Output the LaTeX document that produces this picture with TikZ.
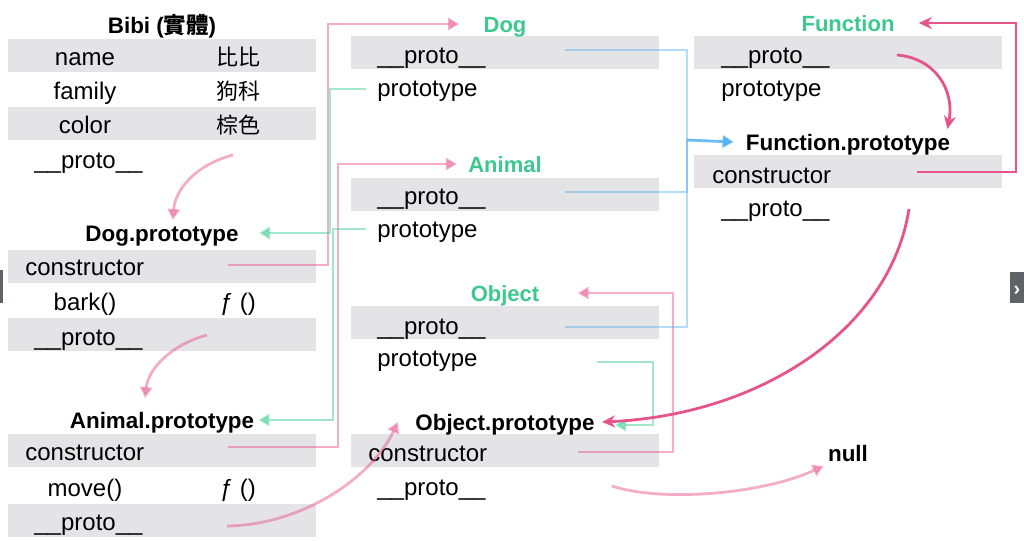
\documentclass[tikz,border=0pt]{standalone}
\usepackage{fontspec}
\setmainfont{Liberation Sans}
\newfontfamily\cjk{Noto Sans CJK TC}
\usetikzlibrary{arrows.meta}
\definecolor{rowgray}{HTML}{E4E4E7}
\definecolor{titlegreen}{HTML}{3CC88E}
\definecolor{pinkbase}{HTML}{E6548A}
\definecolor{greenbase}{HTML}{3DCC91}
\definecolor{bluebase}{HTML}{4AABF0}
\definecolor{tabgray}{HTML}{5F6368}

\begin{document}
\begin{tikzpicture}
  [x=0.5pt,y=-0.5pt,
   every node/.style={font=\fontsize{12}{14}\selectfont,text height=8.6pt,text depth=0pt,inner sep=2pt},
   row/.style={fill=rowgray,minimum width=154pt,minimum height=16.5pt,inner sep=0pt},
   lf/.style={anchor=west,inner xsep=0pt},
   cj/.style={font=\fontsize{11}{13}\selectfont\cjk},
   ttl/.style={font=\fontsize{11.2}{13}\selectfont\bfseries},
   grn/.style={font=\fontsize{11}{13}\selectfont\bfseries,text=titlegreen},
   pk/.style={draw=pinkbase,opacity=0.48,line width=1.4pt,-{Triangle[length=5.5pt,width=6pt]}},
   dk/.style={draw=pinkbase,line width=1.4pt,-{Stealth[length=6.5pt,width=6pt]}},
   gr/.style={draw=greenbase,opacity=0.48,line width=1.4pt,-{Triangle[length=5.5pt,width=6pt]}},
   bl/.style={draw=bluebase,opacity=0.42,line width=1.4pt}]
  \useasboundingbox (0,0) rectangle (1024,541);

  % gray rows
  \node[row] (r1) at (162,55) {};
  \node[row] (r3) at (162,123) {};
  \node[row] (r5) at (162,266) {};
  \node[row] (r7) at (162,334) {};
  \node[row] (r8) at (162,450) {};
  \node[row] (r10) at (162,520) {};
  \node[row] (r11) at (505,52) {};
  \node[row] (r13) at (505,194) {};
  \node[row] (r15) at (505,322) {};
  \node[row] (r17) at (505,450) {};
  \node[row] (r19) at (848,52) {};
  \node[row] (r21) at (848,171) {};

  % Bibi
  \node[ttl] (bibi) at (162,25) {Bibi ({\cjk 實體})};
  \node (k1) at (85,57) {name};
  \node[cj] (v1) at (238,57) {比比};
  \node (k2) at (85,91) {family};
  \node[cj] (v2) at (238,91) {狗科};
  \node (k3) at (85,125) {color};
  \node[cj] (v3) at (238,125) {棕色};
  \node[lf] (k4) at (34,160) {\_\_proto\_\_};

  % Dog.prototype
  \node[ttl] (dp) at (162,233) {Dog.prototype};
  \node[lf] (k5) at (25,267) {constructor};
  \node (k6) at (85,302) {bark()};
  \node (v6) at (238,302) {ƒ ()};
  \node[lf] (k7) at (34,337) {\_\_proto\_\_};

  % Animal.prototype
  \node[ttl] (ap) at (162,420) {Animal.prototype};
  \node[lf] (k8) at (25,452) {constructor};
  \node (k9) at (85,488) {move()};
  \node (v9) at (238,488) {ƒ ()};
  \node[lf] (k10) at (34,522) {\_\_proto\_\_};

  % Dog, Animal, Object
  \node[grn] (dog) at (505,24) {Dog};
  \node[lf] (k11) at (377,55) {\_\_proto\_\_};
  \node[lf] (k12) at (377,88) {prototype};
  \node[grn] (ani) at (505,164) {Animal};
  \node[lf] (k13) at (377,196) {\_\_proto\_\_};
  \node[lf] (k14) at (377,229) {prototype};
  \node[grn] (obj) at (505,293) {Object};
  \node[lf] (k15) at (377,326) {\_\_proto\_\_};
  \node[lf] (k16) at (377,358) {prototype};

  % Object.prototype
  \node[ttl] (op) at (505,422) {Object.prototype};
  \node[lf] (k17) at (368,453) {constructor};
  \node[lf] (k18) at (377,487) {\_\_proto\_\_};

  % Function, Function.prototype, null
  \node[grn] (fn) at (848,23) {Function};
  \node[lf] (k19) at (721,55) {\_\_proto\_\_};
  \node[lf] (k20) at (721,88) {prototype};
  \node[ttl] (fp) at (848,142) {Function.prototype};
  \node[lf] (k21) at (712,175) {constructor};
  \node[lf] (k22) at (721,208) {\_\_proto\_\_};
  \node[ttl] (nl) at (848,453) {null};

  % start points
  \coordinate (s1) at (233,155);
  \coordinate (s2) at (207,335);
  \coordinate (s3) at (227,526);
  \coordinate (s4) at (228,265);
  \coordinate (s5) at (366,89);
  \coordinate (s6) at (228,447);
  \coordinate (s7) at (366,229);
  \coordinate (s8) at (565,50);
  \coordinate (s9) at (565,192);
  \coordinate (s10) at (565,327);
  \coordinate (bus) at (687,140);
  \coordinate (s11) at (578,452);
  \coordinate (s12) at (597,362);
  \coordinate (s13) at (909,209);
  \coordinate (s14) at (917,172);
  \coordinate (s15) at (897,55);
  \coordinate (s16) at (612,486);

  % __proto__ chain
  \draw[pk] (s1) .. controls (195,165) and (175,190) .. ([xshift=5.5pt]dp.north);
  \draw[pk] (s2) .. controls (170,345) and (148,370) .. ([xshift=-8.5pt,yshift=4.5pt]ap.north);
  \draw[pk] (s3) .. controls (300,525) and (370,480) .. ([xshift=-6.5pt]op.west);
  \draw[pk] (s16) .. controls (660,502) and (760,495) .. (nl.south west);

  % constructor / prototype
  \draw[pk] (s4) -- ++(100,0) |- ([xshift=-10pt]dog.west);
  \draw[gr] (s5) -- ++(-36,0) |- ([xshift=8pt]dp.east);
  \draw[pk] (s6) -- ++(110,0) |- ([xshift=-3.5pt]ani.west);
  \draw[gr] (s7) -- ++(-33,0) |- (ap.east);
  \draw[pk] (s11) -- ++(95,0) |- ([xshift=17pt]obj.east);
  \draw[gr] (s12) -- ++(56,0) |- ([xshift=8pt,yshift=-1.5pt]op.east);

  % to Function.prototype
  \draw[bl] (s8) -| (bus);
  \draw[bl] (s9) -| (bus);
  \draw[bl] (s10) -| (bus);
  \draw[bl,opacity=0.8,-{Triangle[length=5.5pt,width=6pt]}] (bus) -- ([xshift=-4pt]fp.west);

  % Function
  \draw[dk] (s15) .. controls (935,58) and (955,90) .. ([xshift=-3.5pt]fp.north east);
  \draw[dk] (s14) -- ++(99,0) |- ([xshift=10pt]fn.east);
  \draw[dk] (s13) .. controls (890,330) and (760,415) .. ([xshift=1.5pt]op.east);

  % side tabs
  \fill[tabgray] (0,270) rectangle (3,303);
  \fill[tabgray] (1010,272) rectangle (1024,303);
  \node[text=white,font=\fontsize{10}{12}\selectfont\bfseries] (tab) at (1017,287) {›};
\end{tikzpicture}
\end{document}
